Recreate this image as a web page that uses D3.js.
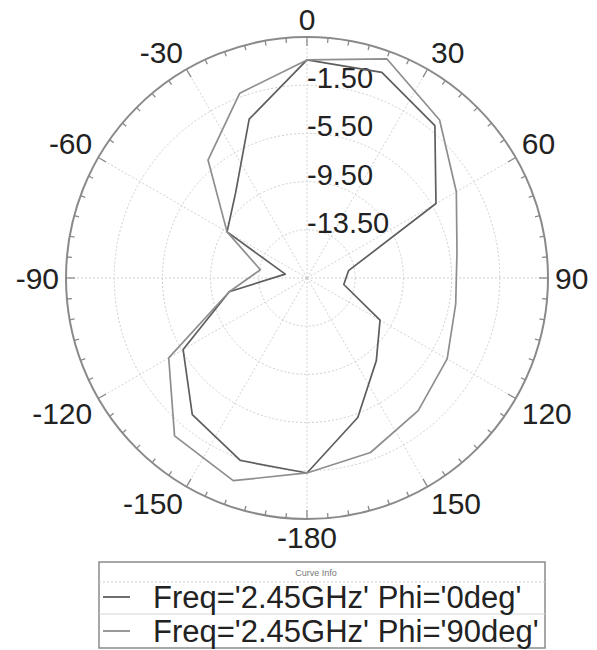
<!DOCTYPE html>
<html>
<head>
<meta charset="utf-8">
<script src="https://cdn.jsdelivr.net/npm/d3@7/dist/d3.min.js"></script>
<style>
  body { margin: 0; background: #fff; }
  svg { display: block; font-family: "Liberation Sans", Arial, sans-serif; }
</style>
</head>
<body>
<div id="polar"></div>
<script>
// theta sample points (deg) and gain (dB)
var thetaDeg = [-180, -160, -140, -120, -100, -80, -60, -40, -20, 0, 20, 40, 60, 80, 100, 120, 140, 160, 180];
var gainPhi0 = [-1.32, -1.38, -2.69, -5.63, -10.95, -15.67, -9.84, -8.28, -3.47, 0.6, 0.66, -0.99, -5.14, -14.0, -14.4, -10.5, -8.55, -5.18, -1.32];
var gainPhi90 = [-1.32, 0.40, -0.4, -4.25, -10.95, -13.57, -9.84, -4.72, -1.18, 0.6, 1.86, -0.38, -3.19, -4.86, -4.97, -4.07, -3.14, -2.09, -1.32];
var ringValues = [-13.5, -9.5, -5.5, -1.5];
var angleLabels = [0, 30, 60, 90, 120, 150, 180, -150, -120, -90, -60, -30];
var seriesNames = ["Freq='2.45GHz' Phi='0deg'", "Freq='2.45GHz' Phi='90deg'"];
var seriesColors = ["#5e5e5e", "#8e8e8e"];

var width = 597, height = 650;
var cx = 307, cy = 278, R = 241;

var svg = d3.select("#polar").append("svg")
    .attr("width", width)
    .attr("height", height);

var g = svg.append("g").attr("transform", "translate(" + cx + "," + cy + ")");

var r = d3.scaleLinear().domain([-17.5, 2.5]).range([0, R]);
var rad = function (deg) { return deg * Math.PI / 180; };

// grid rings
g.selectAll(".ring")
    .data(ringValues)
    .enter()
    .append("circle")
    .attr("r", function (d) { return r(d); })
    .attr("fill", "none")
    .attr("stroke", "#cfcfcf")
    .attr("stroke-width", 1)
    .attr("stroke-dasharray", "2,2");

// spokes every 30 deg
g.selectAll(".spoke")
    .data(d3.range(0, 360, 30))
    .enter()
    .append("line")
    .attr("x1", 0).attr("y1", 0)
    .attr("x2", function (d) { return R * Math.sin(rad(d)); })
    .attr("y2", function (d) { return -R * Math.cos(rad(d)); })
    .attr("stroke", "#d2d2d2")
    .attr("stroke-width", 1)
    .attr("stroke-dasharray", "2,2");

// outer circle
g.append("circle")
    .attr("r", R)
    .attr("fill", "none")
    .attr("stroke", "#8a8a8a")
    .attr("stroke-width", 2);

// ticks, inward
g.selectAll(".tick")
    .data(d3.range(0, 360, 5))
    .enter()
    .append("line")
    .attr("x1", function (d) { return R * Math.sin(rad(d)); })
    .attr("y1", function (d) { return -R * Math.cos(rad(d)); })
    .attr("x2", function (d) { var l = d % 30 === 0 ? 9 : 5; return (R - l) * Math.sin(rad(d)); })
    .attr("y2", function (d) { var l = d % 30 === 0 ? 9 : 5; return -(R - l) * Math.cos(rad(d)); })
    .attr("stroke", "#8a8a8a")
    .attr("stroke-width", 1.3);

// center dot
g.append("circle").attr("r", 1.5).attr("fill", "#cccccc");

// angle labels: text box corner sits on a circle just outside the plot
var fs = 30;
var sgn = function (v) { return Math.abs(v) < 0.01 ? 0 : (v > 0 ? 1 : -1); };
g.selectAll(".alabel")
    .data(angleLabels)
    .enter()
    .append("text")
    .attr("text-anchor", "middle")
    .attr("dy", "0.36em")
    .attr("font-size", fs)
    .attr("fill", "#222")
    .each(function (d) {
        var t = d === 180 ? "-180" : String(d);
        var w = t.replace("-", "").length * 0.556 * fs + (t.indexOf("-") >= 0 ? 0.333 * fs : 0);
        var h = 0.72 * fs;
        var a = rad(d);
        var s = Math.sin(a), c = Math.cos(a);
        var rr = R + 7;
        d3.select(this)
            .attr("x", rr * s + sgn(s) * w / 2)
            .attr("y", -rr * c - sgn(c) * h / 2)
            .text(t);
    });

// ring labels
g.selectAll(".rlabel")
    .data(ringValues)
    .enter()
    .append("text")
    .attr("x", 0)
    .attr("y", function (d) { return -r(d) + 3; })
    .attr("font-size", 29)
    .attr("fill", "#222")
    .text(function (d) { return d.toFixed(2); });

// curves
var line = d3.lineRadial()
    .angle(function (d) { return rad(d[0]); })
    .radius(function (d) { return r(d[1]); });

[gainPhi0, gainPhi90].forEach(function (vals, i) {
    g.append("path")
        .datum(thetaDeg.map(function (t, k) { return [t, vals[k]]; }))
        .attr("d", line)
        .attr("fill", "none")
        .attr("stroke", seriesColors[i])
        .attr("stroke-width", 1.7)
        .attr("stroke-linejoin", "round");
});

// legend
var lx = 99, ly = 562, lw = 446, lh = 86;
var lg = svg.append("g");
lg.append("rect")
    .attr("x", lx).attr("y", ly)
    .attr("width", lw).attr("height", lh)
    .attr("fill", "#fff")
    .attr("stroke", "#8a8a8a")
    .attr("stroke-width", 1.5);
lg.append("text")
    .attr("x", lx + lw / 2 - 6).attr("y", ly + 14)
    .attr("text-anchor", "middle")
    .attr("font-size", 9)
    .attr("fill", "#777")
    .text("Curve Info");
lg.append("line")
    .attr("x1", lx).attr("x2", lx + lw)
    .attr("y1", ly + 20).attr("y2", ly + 20)
    .attr("stroke", "#cccccc")
    .attr("stroke-dasharray", "2,2");
lg.append("line")
    .attr("x1", lx).attr("x2", lx + lw)
    .attr("y1", ly + 52).attr("y2", ly + 52)
    .attr("stroke", "#d5d5d5");

seriesNames.forEach(function (name, i) {
    var yc = ly + 35 + i * 34;
    lg.append("line")
        .attr("x1", lx + 4).attr("x2", lx + 31)
        .attr("y1", yc).attr("y2", yc)
        .attr("stroke", seriesColors[i])
        .attr("stroke-width", 1.8);
    lg.append("text")
        .attr("x", lx + 54).attr("y", yc + 11)
        .attr("font-size", 31)
        .attr("fill", "#222")
        .text(name);
});
</script>
</body>
</html>
